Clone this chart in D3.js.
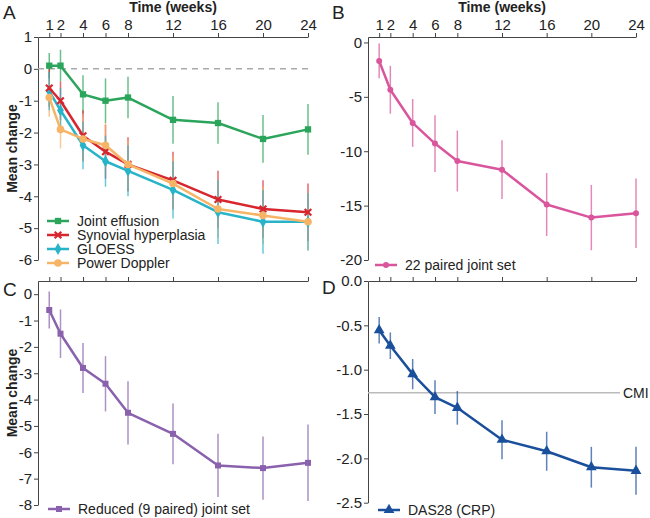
<!DOCTYPE html>
<html>
<head>
<meta charset="utf-8">
<script src="https://cdn.jsdelivr.net/npm/d3@7"></script>
<style>
  body { margin: 0; background: #fff; }
  svg text { font-family: "Liberation Sans", Arial, sans-serif; fill: #222; }
  .axis path, .axis line { stroke: #444; }
</style>
</head>
<body>
<svg id="chart"></svg>
<script>
// Weeks of follow-up, shared by all four panels
var weeks = [1, 2, 4, 6, 8, 12, 16, 20, 24];

// Panel A: ultrasound scores
var effusion = [0.1, 0.1, -0.8, -1.0, -0.9, -1.6, -1.7, -2.2, -1.9];
var effusionErr = [0.4, 0.5, 0.6, 0.7, 0.65, 0.75, 0.65, 0.75, 0.8];
var hyperplasia = [-0.6, -1.0, -2.1, -2.6, -3.0, -3.5, -4.1, -4.4, -4.5];
var hyperplasiaErr = [0.6, 0.6, 0.8, 0.85, 0.85, 0.9, 0.9, 0.9, 0.9];
var gloess = [-0.7, -1.3, -2.4, -2.9, -3.2, -3.8, -4.5, -4.8, -4.8];
var gloessErr = [0.6, 0.7, 0.75, 0.8, 0.8, 0.9, 1.0, 1.0, 0.9];
var doppler = [-0.9, -1.9, -2.2, -2.4, -3.0, -3.6, -4.4, -4.6, -4.8];
var dopplerErr = [0.6, 0.6, 0.7, 0.7, 0.75, 0.85, 0.9, 0.9, 0.9];

// Panel B: 22 paired joint set
var paired22 = [-1.7, -4.35, -7.4, -9.3, -10.9, -11.7, -14.9, -16.1, -15.7];
var paired22Err = [1.6, 2.2, 2.2, 2.6, 2.8, 2.7, 2.9, 3.0, 3.2];

// Panel C: reduced (9 paired) joint set
var reduced9 = [-0.6, -1.5, -2.8, -3.4, -4.5, -5.3, -6.5, -6.6, -6.4];
var reduced9Err = [0.7, 0.92, 0.95, 1.05, 1.2, 1.15, 1.2, 1.2, 1.45];

// Panel D: DAS28 (CRP) and the clinically meaningful improvement
var das28 = [-0.555, -0.73, -1.05, -1.31, -1.43, -1.79, -1.92, -2.1, -2.14];
var das28Err = [0.15, 0.15, 0.17, 0.19, 0.19, 0.22, 0.22, 0.23, 0.27];
var cmi = -1.26;

// Tick labels on the y axes
var ticksA = [1, 0, -1, -2, -3, -4, -5, -6];
var ticksB = [0, -5, -10, -15, -20];
var ticksC = [0, -1, -2, -3, -4, -5, -6, -7, -8];
var ticksD = [0, -0.5, -1.0, -1.5, -2.0, -2.5];

var chart = d3.select('#chart')
  .attr('width', 650)
  .attr('height', 518);

function rows(values, errs) {
  return weeks.map(function(w, i) { return { week: w, value: values[i], err: errs[i] }; });
}

// Build the scales and axes of one panel
function makePanel(p) {
  var x = d3.scaleLinear().domain([0, 24]).range([p.left, p.right]);
  var y = d3.scaleLinear().domain(p.yDomain).range([p.bottom, p.top]);

  chart.append('g')
    .attr('class', 'axis')
    .attr('transform', 'translate(0,' + p.top + ')')
    .call(d3.axisTop(x).tickValues(weeks).tickSize(4).tickSizeOuter(0)
      .tickFormat(p.xLabels ? function(d) { return d; } : ''))
    .call(function(g) { g.selectAll('text').style('font-size', '15px').attr('fill', '#222'); });

  chart.append('g')
    .attr('class', 'axis')
    .attr('transform', 'translate(' + p.left + ',0)')
    .call(d3.axisLeft(y).tickValues(p.ticks).tickSize(4).tickSizeOuter(0).tickPadding(2)
      .tickFormat(p.fmt))
    .call(function(g) { g.selectAll('text').style('font-size', '15px').attr('fill', '#222'); });

  if (p.xTitle) {
    chart.append('text')
      .attr('x', (p.left + p.right) / 2)
      .attr('y', 12)
      .attr('text-anchor', 'middle')
      .style('font-size', '14px')
      .style('font-weight', 'bold')
      .text('Time (weeks)');
  }
  if (p.yTitle) {
    chart.append('text')
      .attr('transform', 'translate(17,' + (p.top + p.bottom) / 2 + ') rotate(-90)')
      .attr('text-anchor', 'middle')
      .style('font-size', '14px')
      .style('font-weight', 'bold')
      .text('Mean change');
  }
  chart.append('text')
    .attr('x', p.letterX)
    .attr('y', p.letterY)
    .style('font-size', '19px')
    .text(p.letter);

  return { x: x, y: y };
}

function drawErrors(s, sc) {
  chart.append('g').selectAll('line')
    .data(s.data)
    .enter().append('line')
      .attr('x1', function(d) { return sc.x(d.week); })
      .attr('x2', function(d) { return sc.x(d.week); })
      .attr('y1', function(d) { return sc.y(d.value + d.err); })
      .attr('y2', function(d) { return sc.y(d.value - d.err); })
      .attr('stroke', s.color)
      .attr('stroke-opacity', 0.7)
      .attr('stroke-width', 1.5);
}

function marker(sel, s) {
  sel.attr('d', d3.symbol().type(s.symbol).size(s.size))
    .attr('fill', s.symbol === d3.symbolX ? 'none' : s.color)
    .attr('stroke', s.symbol === d3.symbolX ? s.color : 'none')
    .attr('stroke-width', 2.2);
}

function drawLine(s, sc) {
  var line = d3.line()
    .x(function(d) { return sc.x(d.week); })
    .y(function(d) { return sc.y(d.value); });
  chart.append('path')
    .datum(s.data)
    .attr('d', line)
    .attr('fill', 'none')
    .attr('stroke', s.color)
    .attr('stroke-width', 2.5)
    .attr('stroke-linejoin', 'round');
  chart.append('g').selectAll('path')
    .data(s.data)
    .enter().append('path')
      .attr('transform', function(d) { return 'translate(' + sc.x(d.week) + ',' + sc.y(d.value) + ')'; })
      .call(marker, s);
}

function drawLegend(items, x0, y0, gap) {
  items.forEach(function(s, i) {
    var yy = y0 + i * gap;
    chart.append('line')
      .attr('x1', x0).attr('x2', x0 + 22)
      .attr('y1', yy).attr('y2', yy)
      .attr('stroke', s.color).attr('stroke-width', 2.5);
    chart.append('path')
      .attr('transform', 'translate(' + (x0 + 11) + ',' + yy + ')')
      .call(marker, s);
    chart.append('text')
      .attr('x', x0 + 30)
      .attr('y', yy)
      .attr('dy', '0.35em')
      .style('font-size', '14px')
      .text(s.name);
  });
}

var intFmt = function(d) { return String(d); };

// ---- Panel A
var scA = makePanel({ left: 38, right: 308, top: 37, bottom: 260, yDomain: [-6, 1],
  ticks: ticksA, fmt: intFmt, xLabels: true, xTitle: true, yTitle: true,
  letter: 'A', letterX: 3, letterY: 19 });

chart.append('line')
  .attr('x1', scA.x(0)).attr('x2', scA.x(24))
  .attr('y1', scA.y(0)).attr('y2', scA.y(0))
  .attr('stroke', '#aaa').attr('stroke-width', 1.5)
  .attr('stroke-dasharray', '6,5');

var seriesA = [
  { name: 'Joint effusion', color: '#2ba55b', symbol: d3.symbolSquare, size: 40, data: rows(effusion, effusionErr) },
  { name: 'Synovial hyperplasia', color: '#d8262f', symbol: d3.symbolX, size: 30, data: rows(hyperplasia, hyperplasiaErr) },
  { name: 'GLOESS', color: '#27b3c8', symbol: d3.symbolDiamond, size: 40, data: rows(gloess, gloessErr) },
  { name: 'Power Doppler', color: '#f6b467', symbol: d3.symbolCircle, size: 45, data: rows(doppler, dopplerErr) }
];
[seriesA[0], seriesA[1], seriesA[3], seriesA[2]].forEach(function(s) { drawErrors(s, scA); });
[seriesA[2], seriesA[1], seriesA[3], seriesA[0]].forEach(function(s) { drawLine(s, scA); });
drawLegend(seriesA, 47, 221, 14);

// ---- Panel B
var scB = makePanel({ left: 368, right: 636, top: 37, bottom: 260, yDomain: [-20, 0.5],
  ticks: ticksB, fmt: intFmt, xLabels: true, xTitle: true, yTitle: false,
  letter: 'B', letterX: 332, letterY: 19 });
var seriesB = { name: '22 paired joint set', color: '#d9569d', symbol: d3.symbolCircle, size: 28, data: rows(paired22, paired22Err) };
drawErrors(seriesB, scB);
drawLine(seriesB, scB);
drawLegend([seriesB], 375, 265, 0);

// ---- Panel C
var scC = makePanel({ left: 38, right: 308, top: 281, bottom: 505, yDomain: [-8, 0.5],
  ticks: ticksC, fmt: intFmt, xLabels: false, yTitle: true,
  letter: 'C', letterX: 3, letterY: 296 });
var seriesC = { name: 'Reduced (9 paired) joint set', color: '#8a61ad', symbol: d3.symbolSquare, size: 36, data: rows(reduced9, reduced9Err) };
drawErrors(seriesC, scC);
drawLine(seriesC, scC);
drawLegend([seriesC], 48, 509, 0);

// ---- Panel D
var scD = makePanel({ left: 368, right: 636, top: 281, bottom: 502.7, yDomain: [-2.5, 0],
  ticks: ticksD, fmt: function(d) { return d.toFixed(1); }, xLabels: false,
  letter: 'D', letterX: 322, letterY: 294 });

chart.append('line')
  .attr('x1', scD.x(0)).attr('x2', 620)
  .attr('y1', scD.y(cmi)).attr('y2', scD.y(cmi))
  .attr('stroke', '#bbb').attr('stroke-width', 1.5);
chart.append('text')
  .attr('x', 623).attr('y', scD.y(cmi)).attr('dy', '0.35em')
  .style('font-size', '14px')
  .text('CMI');

var seriesD = { name: 'DAS28 (CRP)', color: '#1a4f9b', symbol: d3.symbolTriangle, size: 50, data: rows(das28, das28Err) };
drawErrors(seriesD, scD);
drawLine(seriesD, scD);
drawLegend([seriesD], 378, 510, 0);
</script>
</body>
</html>
